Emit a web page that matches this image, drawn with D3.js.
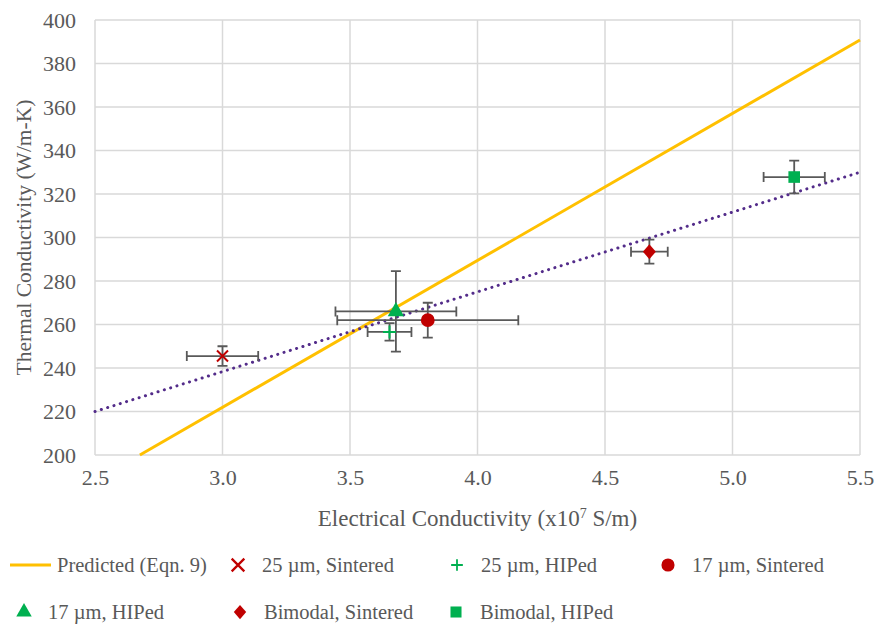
<!DOCTYPE html>
<html>
<head>
<meta charset="utf-8">
<script src="https://cdn.jsdelivr.net/npm/d3@7"></script>
<style>
  body { margin: 0; background: #fff; }
  text { font-family: "Liberation Serif", "Times New Roman", serif; fill: #595959; }
</style>
</head>
<body>
<div id="chart"></div>
<script>
// ---- data ----
var seriesNames = ["25 µm, Sintered", "25 µm, HIPed", "17 µm, Sintered", "17 µm, HIPed", "Bimodal, Sintered", "Bimodal, HIPed"];
var elecCond   = [3.00, 3.655, 3.805, 3.68, 4.674, 5.242];
var thermCond  = [245.5, 256.6, 262.0, 266.0, 293.5, 327.8];
var elecErr    = [0.14, 0.086, 0.355, 0.237, 0.072, 0.12];
var thermErr   = [4.5, 4.0, 8.0, 18.5, 5.5, 7.5];
var markers    = ["cross", "plus", "circle", "triangle", "diamond", "square"];
var markerColors = ["#C00000", "#00B050", "#C00000", "#00B050", "#C00000", "#00B050"];

var predictedX = [2.676, 5.5];
var predictedY = [200, 390.8];
var trendX = [2.5, 5.5];
var trendY = [220, 330];

var xTicks = [2.5, 3.0, 3.5, 4.0, 4.5, 5.0, 5.5];
var yTicks = [200, 220, 240, 260, 280, 300, 320, 340, 360, 380, 400];

/***** basic layout ******/
var width = 880, height = 629;
var margin = {top: 20, right: 20, bottom: 174, left: 95};
var plotW = width - margin.left - margin.right;
var plotH = height - margin.top - margin.bottom;

var svg = d3.select("#chart").append("svg")
    .attr("width", width)
    .attr("height", height);

var x = d3.scaleLinear().domain([2.5, 5.5]).range([0, plotW]);
var y = d3.scaleLinear().domain([200, 400]).range([plotH, 0]);

var g = svg.append("g")
    .attr("transform", "translate(" + margin.left + "," + margin.top + ")");

// gridlines
g.append("g")
  .selectAll("line.vgrid")
  .data(xTicks)
  .enter().append("line")
  .attr("x1", function(d) { return x(d); })
  .attr("x2", function(d) { return x(d); })
  .attr("y1", 0).attr("y2", plotH)
  .attr("stroke", "#D9D9D9").attr("stroke-width", 1.5);

g.append("g")
  .selectAll("line.hgrid")
  .data(yTicks)
  .enter().append("line")
  .attr("y1", function(d) { return y(d); })
  .attr("y2", function(d) { return y(d); })
  .attr("x1", 0).attr("x2", plotW)
  .attr("stroke", "#D9D9D9").attr("stroke-width", 1.5);

// axes (labels only, gridlines drawn above)
var xAxis = g.append("g")
  .attr("transform", "translate(0," + plotH + ")")
  .call(d3.axisBottom(x).tickValues(xTicks).tickFormat(d3.format(".1f")).tickSize(0).tickPadding(14));
var yAxis = g.append("g")
  .call(d3.axisLeft(y).tickValues(yTicks).tickSize(0).tickPadding(19));
xAxis.select(".domain").remove();
yAxis.select(".domain").remove();
g.selectAll(".tick text")
  .style("font-family", "Liberation Serif")
  .style("font-size", "22px")
  .style("fill", "#595959");

// axis titles
var xTitle = svg.append("text")
  .attr("x", margin.left + plotW / 2)
  .attr("y", 526)
  .attr("text-anchor", "middle")
  .style("font-size", "23px");
xTitle.append("tspan").text("Electrical Conductivity (x10");
xTitle.append("tspan").attr("dy", -8).style("font-size", "14px").text("7");
xTitle.append("tspan").attr("dy", 8).text(" S/m)");

svg.append("text")
  .attr("transform", "translate(31," + (margin.top + plotH / 2) + ") rotate(-90)")
  .attr("text-anchor", "middle")
  .style("font-size", "21.5px")
  .text("Thermal Conductivity (W/m-K)");

// lines
var line = d3.line()
  .x(function(d) { return x(d[0]); })
  .y(function(d) { return y(d[1]); });

g.append("path")
  .datum(d3.zip(predictedX, predictedY))
  .attr("d", line)
  .attr("fill", "none")
  .attr("stroke", "#FFC000")
  .attr("stroke-width", 3);

g.append("path")
  .datum(d3.zip(trendX, trendY))
  .attr("d", line)
  .attr("fill", "none")
  .attr("stroke", "#532C8A")
  .attr("stroke-width", 3)
  .attr("stroke-linecap", "round")
  .attr("stroke-dasharray", "0.1 6.5");

// error bars
var pts = d3.range(elecCond.length).map(function(i) {
  return {x: elecCond[i], y: thermCond[i], ex: elecErr[i], ey: thermErr[i], m: markers[i], c: markerColors[i], name: seriesNames[i]};
});

var eb = g.append("g").attr("stroke", "#595959").attr("stroke-width", 1.8).attr("fill", "none");
pts.forEach(function(d) {
  var cx = x(d.x), cy = y(d.y), cap = 5;
  var x0 = x(d.x - d.ex), x1 = x(d.x + d.ex), y0 = y(d.y - d.ey), y1 = y(d.y + d.ey);
  eb.append("path").attr("d",
    "M" + x0 + "," + cy + "H" + x1 +
    "M" + x0 + "," + (cy - cap) + "V" + (cy + cap) +
    "M" + x1 + "," + (cy - cap) + "V" + (cy + cap) +
    "M" + cx + "," + y0 + "V" + y1 +
    "M" + (cx - cap) + "," + y0 + "H" + (cx + cap) +
    "M" + (cx - cap) + "," + y1 + "H" + (cx + cap));
});

/***** marker drawing ******/
function drawMarker(sel, type, color, cx, cy) {
  if (type == "cross") {
    sel.append("path")
      .attr("d", "M" + (cx - 5.5) + "," + (cy - 5.5) + "L" + (cx + 5.5) + "," + (cy + 5.5) +
                 "M" + (cx - 5.5) + "," + (cy + 5.5) + "L" + (cx + 5.5) + "," + (cy - 5.5))
      .attr("stroke", color).attr("stroke-width", 2).attr("fill", "none");
  } else if (type == "plus") {
    sel.append("path")
      .attr("d", "M" + (cx - 6.5) + "," + cy + "H" + (cx + 6.5) + "M" + cx + "," + (cy - 6.5) + "V" + (cy + 6.5))
      .attr("stroke", color).attr("stroke-width", 2).attr("fill", "none");
  } else if (type == "diamond") {
    sel.append("path")
      .attr("d", "M" + cx + "," + (cy - 7.5) + "L" + (cx + 6.5) + "," + cy + "L" + cx + "," + (cy + 7.5) + "L" + (cx - 6.5) + "," + cy + "Z")
      .attr("fill", color);
  } else {
    var sym = {circle: d3.symbolCircle, triangle: d3.symbolTriangle, square: d3.symbolSquare}[type];
    var size = {circle: 150, triangle: 115, square: 135}[type];
    sel.append("path")
      .attr("d", d3.symbol().type(sym).size(size)())
      .attr("transform", "translate(" + cx + "," + cy + ")")
      .attr("fill", color);
  }
}

var mk = g.append("g");
pts.forEach(function(d) { drawMarker(mk, d.m, d.c, x(d.x), y(d.y)); });

/***** legend ******/
var legendItems = [{name: "Predicted (Eqn. 9)", m: "line", c: "#FFC000"}].concat(pts);
var legendPos = [[10, 565], [238, 565], [457, 565], [668, 565], [24, 612], [240, 612], [456, 612]];
var lg = svg.append("g");
legendItems.forEach(function(d, i) {
  var px = legendPos[i][0], py = legendPos[i][1];
  var tx;
  if (d.m == "line") {
    lg.append("line").attr("x1", px).attr("x2", px + 41).attr("y1", py).attr("y2", py)
      .attr("stroke", d.c).attr("stroke-width", 3);
    tx = px + 47;
  } else {
    var s = (d.m == "cross") ? 1.15 : (d.m == "plus" ? 0.9 : 0.95);
    var sub = lg.append("g").attr("transform", "translate(" + px + "," + py + ") scale(" + s + ")");
    drawMarker(sub, d.m, d.c, 0, 0);
    tx = px + 24;
  }
  lg.append("text")
    .attr("x", tx).attr("y", py + 7)
    .style("font-size", "20.5px")
    .text(d.name);
});
</script>
</body>
</html>
